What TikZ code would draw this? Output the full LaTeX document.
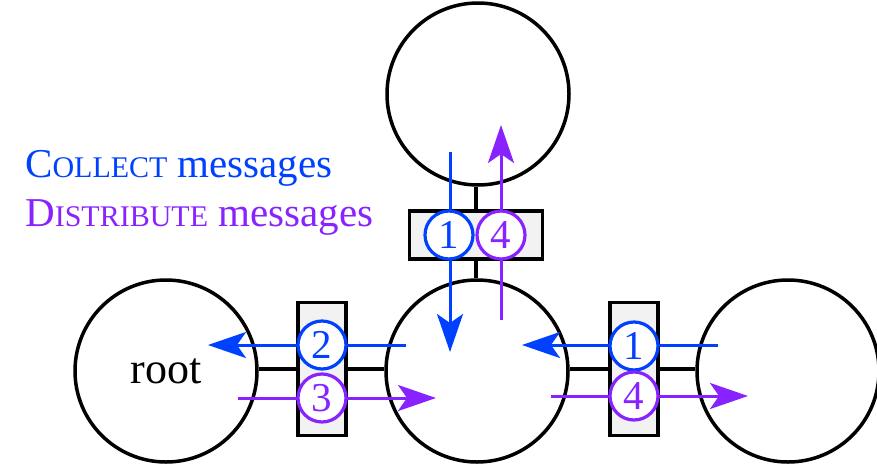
\documentclass[tikz,border=0pt]{standalone}
\usepackage{fontspec}
\setmainfont{Liberation Serif}
\usetikzlibrary{arrows.meta}
\definecolor{cblue}{RGB}{0,64,255}
\definecolor{cpurple}{RGB}{136,34,255}
\tikzset{
  bigc/.style={draw=black, line width=3.5pt, circle, minimum size=182pt, inner sep=0pt},
  sepbox/.style={draw=black, line width=3.5pt, fill=black!5, inner sep=0pt},
  link/.style={draw=black, line width=3.5pt},
  msgb/.style={draw=cblue, line width=3.2pt, circle, fill=white, minimum size=48pt, inner sep=0pt, text=cblue, font=\fontsize{41}{41}\selectfont},
  msgp/.style={draw=cpurple, line width=3.2pt, circle, fill=white, minimum size=48pt, inner sep=0pt, text=cpurple, font=\fontsize{41}{41}\selectfont},
  barb/.style={line width=3pt, -{Stealth[length=38pt, width=26pt, inset=9pt]}},
  legend/.style={anchor=base west, inner sep=0pt, font=\fontsize{41}{44}\selectfont}
}
\newcommand{\bigsc}[2]{{\fontsize{41}{44}\selectfont #1}{\fontsize{30}{32}\selectfont #2}}
\begin{document}
\begin{tikzpicture}[x=1pt,y=-1pt]
\useasboundingbox (0,0) rectangle (877,466);
% big circles
\node[bigc] (top) at (478,94) {};
\node[bigc] (mid) at (477,371) {};
\node[bigc, font=\fontsize{44}{44}\selectfont] (root) at (166,371) {root};
\node[bigc] (right) at (788,371) {};
% separator boxes
\node[sepbox, minimum width=133pt, minimum height=48pt] (tbox) at (476,235) {};
\node[sepbox, minimum width=48pt, minimum height=133pt] (lbox) at (322,369) {};
\node[sepbox, minimum width=48pt, minimum height=133pt] (rbox) at (634,369) {};
% links
\draw[link] (tbox.north) -- (tbox.north |- top.south);
\draw[link] (tbox.south) -- (tbox.south |- mid.north);
\draw[link] (lbox.west) -- (lbox.west -| root.east);
\draw[link] (lbox.east) -- (lbox.east -| mid.west);
\draw[link] (rbox.west) -- (rbox.west -| mid.east);
\draw[link] (rbox.east) -- (rbox.east -| right.west);
% arrow endpoints
\coordinate (tbs) at (450,152); \coordinate (tbe) at (450,352);
\coordinate (tps) at (501,320); \coordinate (tpe) at (501,125);
\coordinate (lbs) at (406,345); \coordinate (lbe) at (208,345);
\coordinate (lps) at (238,398); \coordinate (lpe) at (436,398);
\coordinate (rbs) at (718,345); \coordinate (rbe) at (522,345);
\coordinate (rps) at (551,396); \coordinate (rpe) at (748,396);
\draw[barb, cblue] (tbs) -- (tbe);
\draw[barb, cpurple] (tps) -- (tpe);
\draw[barb, cblue] (lbs) -- (lbe);
\draw[barb, cpurple] (lps) -- (lpe);
\draw[barb, cblue] (rbs) -- (rbe);
\draw[barb, cpurple] (rps) -- (rpe);
% message circles
\node[msgb] (m1t) at (449,235) {1};
\node[msgp] (m4t) at (501,235) {4};
\node[msgb] (m2l) at (322,345) {2};
\node[msgp] (m3l) at (322,398) {3};
\node[msgb] (m1r) at (634,346) {1};
\node[msgp] (m4r) at (634,396) {4};
% legend
\node[legend, text=cblue] (lc) at (25,177) {\bigsc{C}{OLLECT} messages};
\node[legend, text=cpurple] (ld) at (25,226) {\bigsc{D}{ISTRIBUTE} messages};
\end{tikzpicture}
\end{document}
